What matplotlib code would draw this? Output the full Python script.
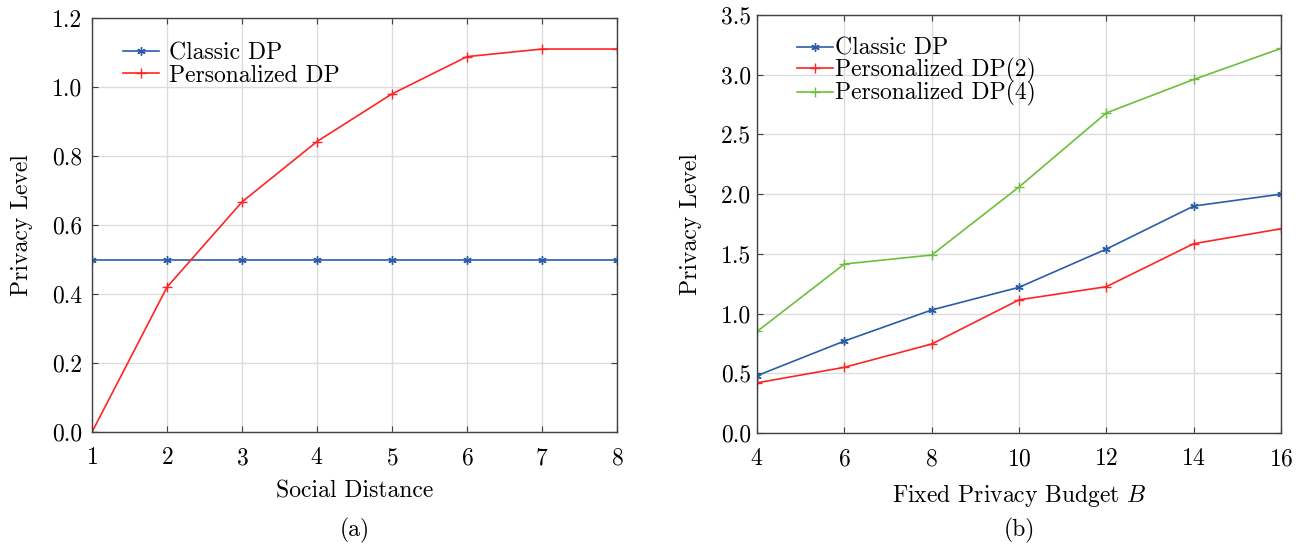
import numpy as np
import matplotlib
matplotlib.use('Agg')
import matplotlib.pyplot as plt

plt.rcParams['font.family'] = ['cmr10', 'DejaVu Serif']
plt.rcParams['mathtext.fontset'] = 'cm'
plt.rcParams['axes.formatter.use_mathtext'] = True

##Data##
dist = [1, 2, 3, 4, 5, 6, 7, 8]
classic_a = [0.5, 0.5, 0.5, 0.5, 0.5, 0.5, 0.5, 0.5]
pers_a = [0.0, 0.42, 0.667, 0.842, 0.98, 1.088, 1.11, 1.11]

budget = [4, 6, 8, 10, 12, 14, 16]
classic_b = [0.48, 0.77, 1.03, 1.22, 1.54, 1.90, 2.00]
pers2_b = [0.42, 0.55, 0.745, 1.115, 1.225, 1.585, 1.71]
pers4_b = [0.85, 1.415, 1.49, 2.06, 2.68, 2.96, 3.22]

BLUE = '#2a5caa'
RED = '#ff2424'
GREEN = '#6cbf3c'
FS = 17

fig = plt.figure(figsize=(13.07, 5.45), dpi=100)
ax1 = fig.add_axes([0.0704, 0.2073, 0.4017, 0.7597])
ax2 = fig.add_axes([0.5792, 0.2055, 0.4009, 0.767])


def style(ax, ypad):
    ax.grid(True, color='#dcdcdc', linewidth=1.0)
    ax.set_axisbelow(True)
    for s in ax.spines.values():
        s.set_color('#404040')
        s.set_linewidth(1.0)
    ax.tick_params(direction='in', top=True, right=True, labelsize=FS,
                   color='#404040', length=4)
    ax.tick_params(axis='x', pad=11)
    ax.tick_params(axis='y', pad=ypad)


##Panel (a)##
ax1.plot(dist, classic_a, color=BLUE, marker=(6, 2, 0), markersize=6, lw=1.2, label='Classic DP')
ax1.plot(dist, pers_a, color=RED, marker='+', markersize=7, lw=1.2, label='Personalized DP')
ax1.set_xlim(1, 8)
ax1.set_ylim(0, 1.2)
ax1.set_xticks(dist)
ax1.set_yticks(np.arange(0, 1.21, 0.2))
ax1.set_yticklabels(['%.1f' % v for v in np.arange(0, 1.21, 0.2)])
ax1.set_xlabel('Social Distance', fontsize=FS, labelpad=8)
ax1.set_ylabel('Privacy Level', fontsize=FS, labelpad=14)
style(ax1, 7)
ax1.legend(loc='upper left', bbox_to_anchor=(0.027, 0.982), frameon=False, fontsize=FS,
           handlelength=1.55, handletextpad=0.4, labelspacing=0.02, borderpad=0.2)
fig.text(0.2712, 0.0275, '(a)', ha='center', va='center', fontsize=FS)

##Panel (b)##
ax2.plot(budget, classic_b, color=BLUE, marker=(6, 2, 0), markersize=6, lw=1.2, label='Classic DP')
ax2.plot(budget, pers2_b, color=RED, marker='+', markersize=7, lw=1.2, label='Personalized DP(2)')
ax2.plot(budget, pers4_b, color=GREEN, marker='+', markersize=7, lw=1.2, label='Personalized DP(4)')
ax2.set_xlim(4, 16)
ax2.set_ylim(0, 3.5)
ax2.set_xticks(budget)
ax2.set_yticks(np.arange(0, 3.51, 0.5))
ax2.set_yticklabels(['%.1f' % v for v in np.arange(0, 3.51, 0.5)])
ax2.set_xlabel('Fixed Privacy Budget $B$', fontsize=FS, labelpad=8)
ax2.set_ylabel('Privacy Level', fontsize=FS, labelpad=14)
style(ax2, 4)
ax2.legend(loc='upper left', bbox_to_anchor=(0.044, 0.985), frameon=False, fontsize=FS,
           handlelength=1.55, handletextpad=0.06, labelspacing=-0.08, borderpad=0.2)
fig.text(0.7797, 0.0275, '(b)', ha='center', va='center', fontsize=FS)

plt.savefig('out.png', dpi=100)
